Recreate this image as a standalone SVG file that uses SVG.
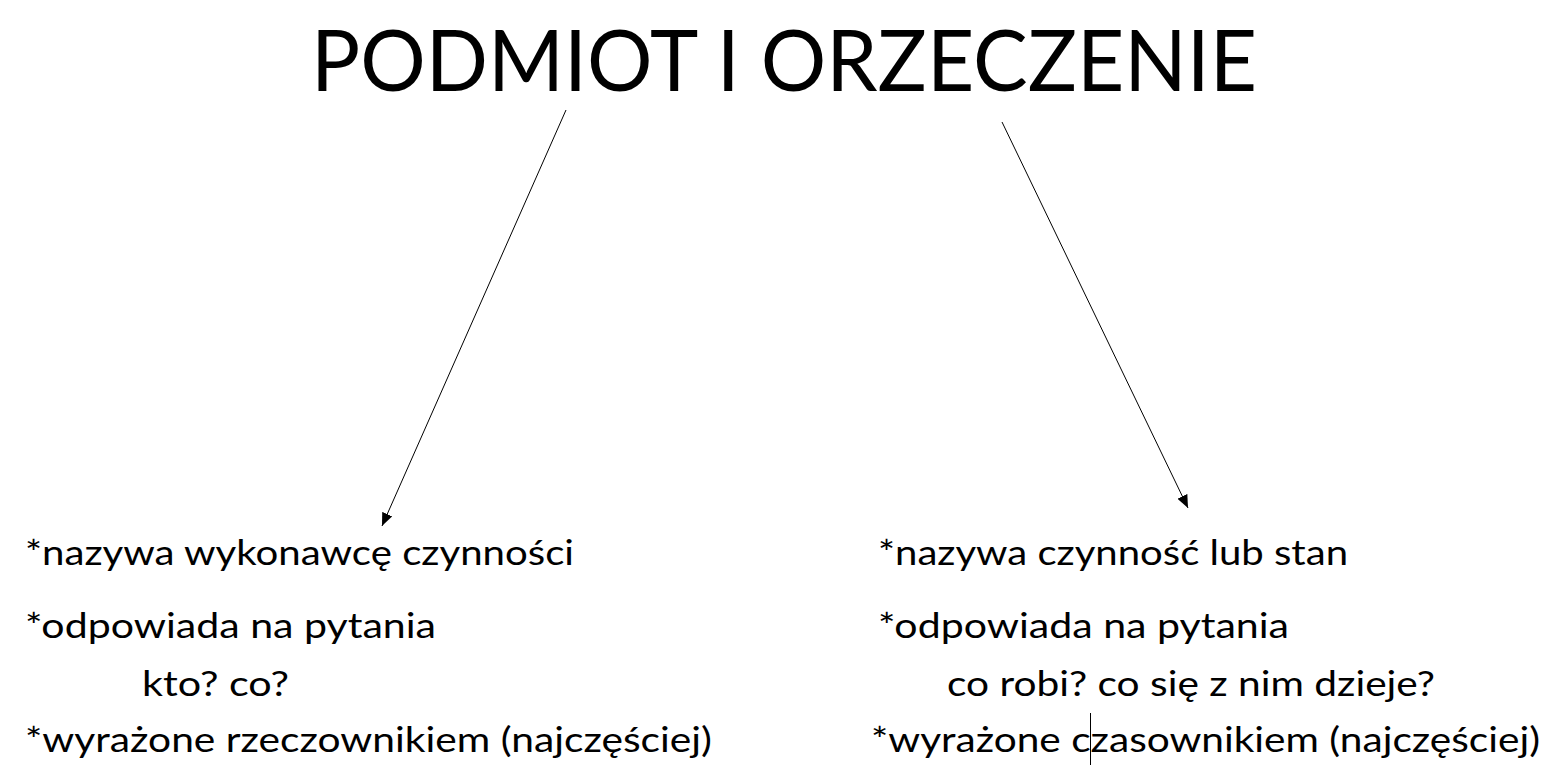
<svg xmlns="http://www.w3.org/2000/svg" width="1550" height="766" viewBox="0 0 1550 766">
<style>
text{font-family:Lato,"Open Sans","Liberation Sans",sans-serif;fill:#000}
.t{font-size:86px}
.s{font-size:34px}
.c{stroke:#000;stroke-width:1;fill:none}
</style>
<defs>
<marker id="ah" markerUnits="userSpaceOnUse" markerWidth="13" markerHeight="11" viewBox="0 0 13 11" refX="13" refY="5.5" orient="auto">
<path d="M0,0 L13,5.5 L0,11 z" fill="#000"/>
</marker>
</defs>
<rect width="1550" height="766" fill="#fff"/>
<g id="title"><text class="t" x="311" y="91" textLength="946" lengthAdjust="spacingAndGlyphs">PODMIOT I ORZECZENIE</text></g>
<g id="connectors">
<line class="c" x1="566" y1="110" x2="382" y2="526" marker-end="url(#ah)"/>
<line class="c" x1="1002" y1="122" x2="1188" y2="508" marker-end="url(#ah)"/>
</g>
<g id="podmiot">
<text class="s" x="25" y="565" textLength="549" lengthAdjust="spacingAndGlyphs">*nazywa wykonawcę czynności</text>
<text class="s" x="25" y="638" textLength="411" lengthAdjust="spacingAndGlyphs">*odpowiada na pytania</text>
<text class="s" x="142" y="696" textLength="147" lengthAdjust="spacingAndGlyphs">kto? co?</text>
<text class="s" x="25" y="752" textLength="687" lengthAdjust="spacingAndGlyphs">*wyrażone rzeczownikiem (najczęściej)</text>
</g>
<g id="orzeczenie">
<text class="s" x="878" y="565" textLength="470" lengthAdjust="spacingAndGlyphs">*nazywa czynność lub stan</text>
<text class="s" x="878" y="638" textLength="411" lengthAdjust="spacingAndGlyphs">*odpowiada na pytania</text>
<text class="s" x="947" y="696" textLength="488" lengthAdjust="spacingAndGlyphs">co robi? co się z nim dzieje?</text>
<text class="s" x="871" y="752" textLength="669" lengthAdjust="spacingAndGlyphs">*wyrażone czasownikiem (najczęściej)</text>
</g>
<line x1="1090.5" y1="713" x2="1090.5" y2="765" stroke="#000" stroke-width="1"/>
</svg>
